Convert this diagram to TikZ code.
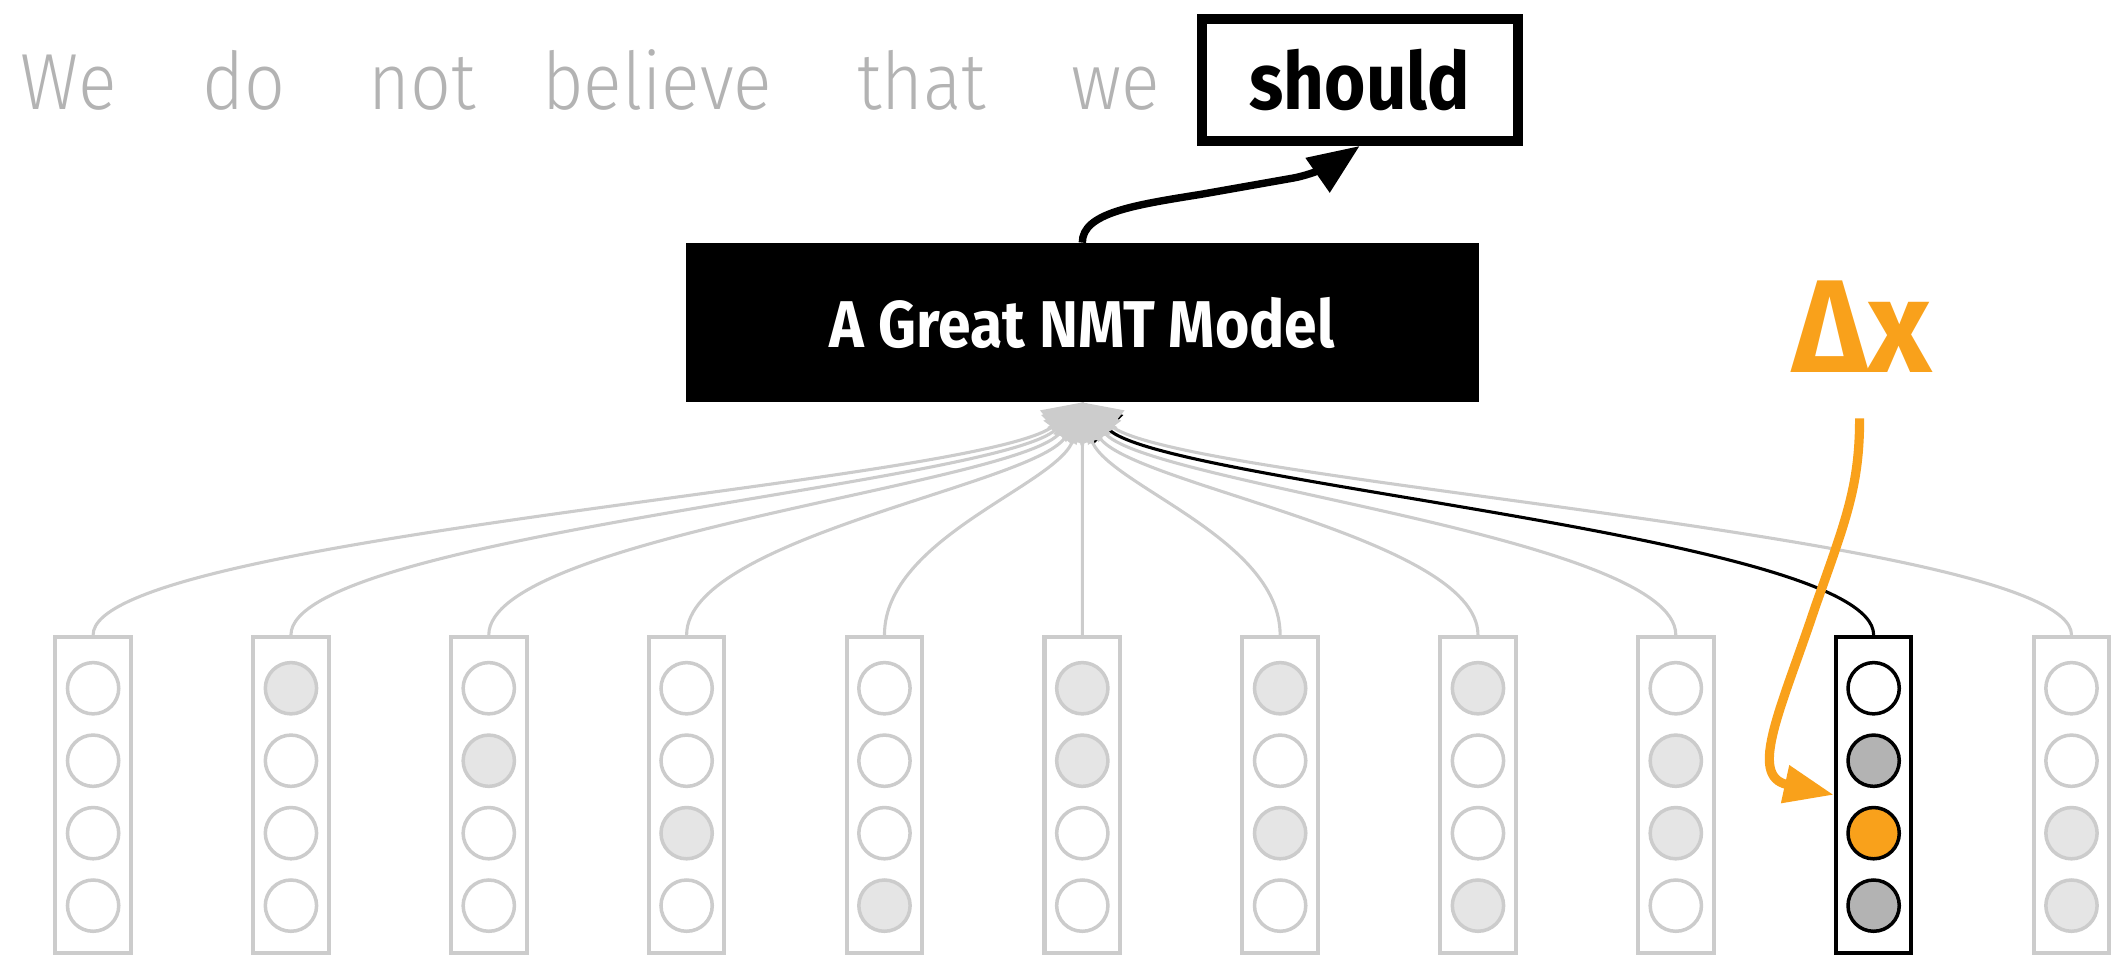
\documentclass[tikz,border=0pt]{standalone}
\usepackage{fontspec}
\usetikzlibrary{arrows.meta}

\newfontfamily\wordfont[FakeStretch=0.9]{Fira Sans Light}
\newfontfamily\shouldfont[FakeStretch=0.89]{Fira Sans}
\newfontfamily\modelfont[FakeStretch=0.89]{Fira Sans}
\newfontfamily\deltafont[FakeStretch=0.95]{Fira Sans}

\definecolor{wordgray}{RGB}{179,179,179}
\definecolor{linegray}{RGB}{204,204,204}
\definecolor{cellgray}{RGB}{229,229,229}
\definecolor{celldark}{RGB}{179,179,179}
\definecolor{deltaorange}{RGB}{249,161,27}

\tikzset{
  word/.style={text=wordgray, anchor=base, inner sep=0pt,
    font=\wordfont\fontsize{59}{60}\selectfont},
  vecbox/.style={draw=linegray, fill=white, line width=3pt, inner sep=0pt,
    minimum width=56pt, minimum height=234pt},
  cell/.style={circle, draw=linegray, line width=2.6pt, inner sep=0pt,
    minimum size=38pt},
  link/.style={draw=linegray, line width=2.3pt,
    -{Triangle[length=28pt,width=30pt]}},
  activelink/.style={draw=black, line width=2.3pt,
    -{Triangle[length=28pt,width=30pt]}},
}

\begin{document}
\begin{tikzpicture}[x=1pt, y=-1pt]
\useasboundingbox (0,0) rectangle (1568,708);

% input sentence
\node[word] (w1) at (51,81.5) {We};
\node[word] (w2) at (181,81.5) {do};
\node[word] (w3) at (313,81.5) {not};
\node[word] (w4) at (487,81.5) {believe};
\node[word] (w5) at (683,81.5) {that};
\node[word] (w6) at (827,81.5) {we};

% predicted word
\node[draw=black, line width=7.4pt, inner sep=0pt,
      minimum width=234pt, minimum height=90.5pt,
      font=\shouldfont\bfseries\fontsize{59}{60}\selectfont]
  (out) at (1007.5,59.25) {should};

% the model
\node[fill=black, text=white, inner sep=0pt,
      minimum width=588pt, minimum height=118pt,
      font=\modelfont\bfseries\fontsize{49}{50}\selectfont]
  (model) at (802,239) {A Great NMT Model};

% embedding vectors
\foreach \i/\fa/\fb/\fc/\fd in {
    1/white/white/white/white,
    2/cellgray/white/white/white,
    3/white/cellgray/white/white,
    4/white/white/cellgray/white,
    5/white/white/white/cellgray,
    6/cellgray/cellgray/white/white,
    7/cellgray/white/cellgray/white,
    8/cellgray/white/white/cellgray,
    9/white/cellgray/cellgray/white,
    11/white/white/cellgray/cellgray}{
  \node[vecbox] (v\i) at ({69+146.6*(\i-1)},589) {};
  \foreach \k/\fillc in {1/\fa,2/\fb,3/\fc,4/\fd}
    \node[cell, fill=\fillc] (c\i-\k) at ({69+146.6*(\i-1)},{510+53.7*(\k-1)}) {};
}

% the perturbed vector
\node[vecbox, draw=black] (v10) at (1388.4,589) {};
\foreach \k/\fillc in {1/white,2/celldark,3/deltaorange,4/celldark}
  \node[cell, draw=black, fill=\fillc] (c10-\k) at (1388.4,{510+53.7*(\k-1)}) {};

% attention links into the model
\draw[activelink] (v10.north) .. controls +(0,-73) and +(58.6,60) .. (model.south);
\foreach \i in {1,...,9,11}
  \draw[link] (v\i.north) .. controls +(0,-73) and +({14.66*(\i-6)},60) .. (model.south);

% output arrow
\draw[line width=5.5pt, -{Triangle[length=38pt,width=30pt]}]
  (model.north) .. controls +(0,-22) and +(-50,8) .. (890,144)
  -- (958,132) .. controls (975,129) and (992,119) .. (out.south);

% perturbation
\node[text=deltaorange, anchor=base, inner sep=0pt,
      font=\deltafont\bfseries\fontsize{98}{98}\selectfont]
  (dx) at (1380,276) {Δx};
\coordinate (dxstart) at (1378,310);
\draw[deltaorange, line width=6.8pt, -{Triangle[length=37pt,width=27pt]}]
  (dxstart) .. controls +(0,50) and (1368,385) .. (1345,450)
  .. controls (1320,525) and (1295,575) .. (v10.west);
\end{tikzpicture}
\end{document}
